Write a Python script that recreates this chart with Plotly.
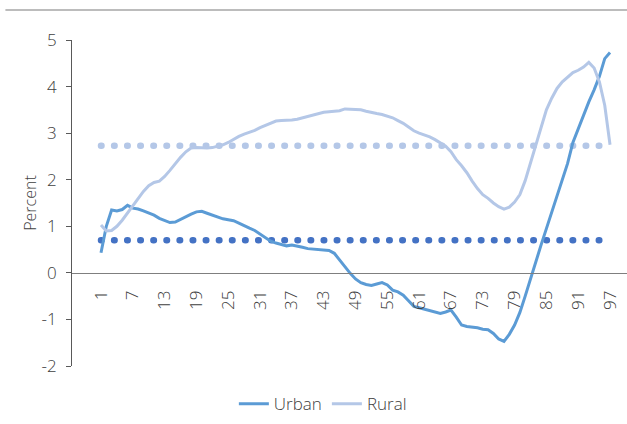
import plotly.graph_objects as go

# categories 1..97 on the x axis
categories = list(range(1, 98))
tick_labels = [1, 7, 13, 19, 25, 31, 37, 43, 49, 55, 61, 67, 73, 79, 85, 91, 97]
y_tick_values = [-2, -1, 0, 1, 2, 3, 4, 5]

urban = [
    0.43, 1.0, 1.35, 1.33, 1.36, 1.45, 1.39, 1.37, 1.33, 1.29,
    1.24, 1.17, 1.12, 1.08, 1.09, 1.15, 1.2, 1.26, 1.31, 1.32,
    1.28, 1.24, 1.2, 1.16, 1.14, 1.12, 1.07, 1.01, 0.96, 0.91,
    0.83, 0.75, 0.68, 0.64, 0.61, 0.58, 0.6, 0.58, 0.55, 0.52,
    0.51, 0.51, 0.49, 0.48, 0.42, 0.28, 0.12, -0.01, -0.13, -0.21,
    -0.25, -0.27, -0.24, -0.21, -0.26, -0.37, -0.41, -0.48, -0.6, -0.72,
    -0.75, -0.78, -0.82, -0.85, -0.87, -0.84, -0.8, -0.95, -1.12, -1.15,
    -1.16, -1.18, -1.21, -1.22, -1.3, -1.42, -1.47, -1.32, -1.12, -0.85,
    -0.5, -0.12, 0.25, 0.6, 0.95, 1.3, 1.62, 1.95, 2.35, 2.8,
    3.1, 3.4, 3.67, 3.93, 4.22, 4.6, 4.73,
]

rural = [
    1.03, 0.9, 0.91, 1.0, 1.13, 1.28, 1.45, 1.6, 1.75, 1.87,
    1.94, 1.97, 2.07, 2.2, 2.35, 2.48, 2.6, 2.68, 2.69, 2.68,
    2.68, 2.69, 2.72, 2.75, 2.8, 2.87, 2.93, 2.98, 3.02, 3.06,
    3.12, 3.17, 3.21, 3.26, 3.27, 3.27, 3.28, 3.3, 3.33, 3.37,
    3.4, 3.43, 3.45, 3.46, 3.47, 3.48, 3.52, 3.51, 3.5, 3.5,
    3.47, 3.44, 3.42, 3.4, 3.37, 3.33, 3.27, 3.21, 3.13, 3.05,
    3.0, 2.96, 2.92, 2.86, 2.79, 2.72, 2.6, 2.43, 2.3, 2.15,
    1.97, 1.81, 1.68, 1.6, 1.5, 1.42, 1.37, 1.41, 1.52, 1.68,
    1.98, 2.35, 2.73, 3.12, 3.5, 3.75, 3.96, 4.1, 4.2, 4.3,
    4.35, 4.42, 4.52, 4.4, 4.1, 3.6, 2.75,
]

urban_avg = 0.7
rural_avg = 2.73

URBAN_COLOR = "#5B9BD5"
RURAL_COLOR = "#B4C7E7"
URBAN_AVG_COLOR = "#4472C4"
TEXT_COLOR = "#404040"
FONT = "Open Sans, Noto Sans, sans-serif"

fig = go.Figure()

# averages drawn as round-dot lines (caps made round in post_script)
fig.add_trace(
    go.Scatter(
        x=categories, y=[rural_avg] * len(categories), mode="lines",
        line=dict(color=RURAL_COLOR, width=6.5, dash="0.5px,12.6px"),
        showlegend=False, hoverinfo="skip",
    )
)
fig.add_trace(
    go.Scatter(
        x=categories, y=[urban_avg] * len(categories), mode="lines",
        line=dict(color=URBAN_AVG_COLOR, width=6.5, dash="0.5px,12.6px"),
        showlegend=False, hoverinfo="skip",
    )
)
fig.add_trace(
    go.Scatter(x=categories, y=urban, mode="lines", name="Urban",
               line=dict(color=URBAN_COLOR, width=3))
)
fig.add_trace(
    go.Scatter(x=categories, y=rural, mode="lines", name="Rural",
               line=dict(color=RURAL_COLOR, width=3))
)

fig.update_layout(
    width=627,
    height=424,
    margin=dict(l=72, r=0, t=40, b=58),
    paper_bgcolor="white",
    plot_bgcolor="white",
    font=dict(family=FONT, size=16, color=TEXT_COLOR, weight=300),
    legend=dict(
        orientation="h", x=0.452, xanchor="center", y=-0.117, yanchor="middle",
        font=dict(size=17, color=TEXT_COLOR, weight=300), itemwidth=30,
    ),
    xaxis=dict(
        range=[-4.47, 100.2],
        tickmode="array",
        tickvals=tick_labels,
        ticktext=[str(t) for t in tick_labels],
        tickangle=-90,
        tickfont=dict(size=17, color=TEXT_COLOR, weight=300),
        ticklabelstandoff=10,
        showgrid=False,
        zeroline=False,
        showline=True,
        linecolor="#7f7f7f",
        linewidth=1,
        ticks="",
        anchor="free",
        position=2 / 7,
    ),
    yaxis=dict(
        range=[-2, 5],
        tickmode="array",
        tickvals=y_tick_values,
        ticktext=[str(v) for v in y_tick_values],
        showgrid=False,
        zeroline=False,
        showline=True,
        linecolor="#595959",
        linewidth=1,
        ticks="outside",
        ticklen=5,
        tickcolor="#595959",
        tickfont=dict(size=17, color=TEXT_COLOR, weight=300),
        ticklabelstandoff=6,
        title=dict(text="Percent", font=dict(size=16, color=TEXT_COLOR, weight=300),
                   standoff=0),
    ),
    shapes=[
        dict(type="line", xref="paper", yref="paper",
             x0=-0.12, x1=1, y0=1.092, y1=1.092,
             line=dict(color="#a6a6a6", width=1.5)),
    ],
)

post = """
document.body.style.margin = '0';
var gd = document.getElementById('{plot_id}');
var traces = gd.querySelectorAll('.scatterlayer .trace');
for (var i = 0; i < 2 && i < traces.length; i++) {
  traces[i].querySelectorAll('path.js-line').forEach(function (p) {
    p.style.strokeLinecap = 'round';
  });
}
"""

fig.write_html("out.html", post_script=post, config={"displayModeBar": False})
